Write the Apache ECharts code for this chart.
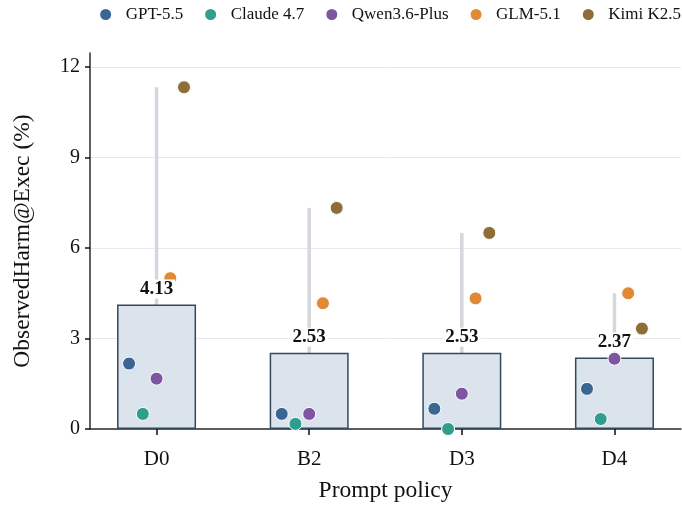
<!DOCTYPE html>
<html>
<head>
<meta charset="utf-8">
<script src="https://cdn.jsdelivr.net/npm/echarts@6.0.0/dist/echarts.min.js"></script>
<style>
html,body{margin:0;padding:0;background:#fff;}
#chart{width:682px;height:508px;}
</style>
</head>
<body>
<div id="chart"></div>
<script>
// ---- data ----
const categories = ['D0', 'B2', 'D3', 'D4'];
const models = ['GPT-5.5', 'Claude 4.7', 'Qwen3.6-Plus', 'GLM-5.1', 'Kimi K2.5'];
const gpt   = [2.17, 0.50, 0.67, 1.33];
const claude= [0.50, 0.17, 0.00, 0.33];
const qwen  = [1.67, 0.50, 1.17, 2.33];
const glm   = [5.00, 4.17, 4.33, 4.50];
const kimi  = [11.33, 7.33, 6.50, 3.33];
const means = [4.13, 2.53, 2.53, 2.37];
const yTicks = [0, 3, 6, 9, 12];

// ---- style ----
const colors = ['#3b6593', '#2f9e8f', '#7d55a0', '#e08a36', '#8f6d37'];
const offsets = [-0.18, -0.09, 0, 0.09, 0.18];
const FONT = '"Liberation Serif", "Times New Roman", serif';
const seriesValues = [gpt, claude, qwen, glm, kimi];

const ranges = categories.map((c, i) => {
  const vals = seriesValues.map(s => s[i]);
  return [i, Math.min(...vals), Math.max(...vals)];
});

const chart = echarts.init(document.getElementById('chart'), null, {renderer: 'canvas'});

const scatterSeries = models.map((m, k) => ({
  name: m,
  type: 'scatter',
  z: 4,
  symbol: 'circle',
  symbolSize: 13,
  itemStyle: {color: colors[k], opacity: 1, borderColor: '#fff', borderWidth: 1},
  data: seriesValues[k].map((v, i) => [i + offsets[k], v])
}));

const option = {
  animation: false,
  backgroundColor: '#fff',
  textStyle: {fontFamily: FONT},
  legend: {
    top: 6,
    right: 1,
    padding: 0,
    itemWidth: 30,
    itemHeight: 13,
    itemGap: 20,
    icon: 'circle',
    textStyle: {fontFamily: FONT, fontSize: 17, color: '#111'},
    data: models
  },
  grid: {left: 90, right: 1, top: 53, bottom: 76, containLabel: false},
  xAxis: {
    type: 'value',
    min: -0.436,
    max: 3.436,
    name: 'Prompt policy',
    nameLocation: 'middle',
    nameGap: 50,
    nameTextStyle: {fontFamily: FONT, fontSize: 23.5, color: '#111'},
    axisLine: {show: true, onZero: false, lineStyle: {color: '#2b2b2b', width: 1.5}},
    axisTick: {show: true, customValues: [0, 1, 2, 3], length: 6, lineStyle: {color: '#111', width: 1.5}},
    axisLabel: {
      customValues: [0, 1, 2, 3],
      formatter: v => categories[Math.round(v)] || '',
      fontFamily: FONT, fontSize: 21, color: '#111', margin: 20
    },
    splitLine: {show: false}
  },
  yAxis: {
    type: 'value',
    min: 0,
    max: 12.466,
    name: 'ObservedHarm@Exec (%)',
    nameLocation: 'middle',
    nameGap: 55,
    nameTextStyle: {fontFamily: FONT, fontSize: 23.5, color: '#111'},
    axisLine: {show: true, onZero: false, lineStyle: {color: '#2b2b2b', width: 1.5}},
    axisTick: {show: true, customValues: yTicks, length: 5, lineStyle: {color: '#111', width: 1.5}},
    axisLabel: {customValues: yTicks, fontFamily: FONT, fontSize: 20, color: '#111', margin: 10},
    splitLine: {show: true, lineStyle: {color: '#e6e9ef', width: 1}}
  },
  series: [
    {
      type: 'custom',
      name: 'range',
      z: 1,
      silent: true,
      data: ranges,
      encode: {x: 0, y: [1, 2]},
      renderItem: (params, api) => {
        const p1 = api.coord([api.value(0), api.value(1)]);
        const p2 = api.coord([api.value(0), api.value(2)]);
        return {
          type: 'line',
          shape: {x1: p1[0], y1: p1[1], x2: p2[0], y2: p2[1]},
          style: {stroke: '#d4d7dd', lineWidth: 3.5}
        };
      }
    },
    {
      type: 'bar',
      name: 'mean',
      z: 2,
      barWidth: 79,
      silent: true,
      itemStyle: {color: '#dbe3ec', borderColor: '#34495e', borderWidth: 1.5},
      data: means.map((m, i) => [i, m])
    },
    ...scatterSeries,
    {
      type: 'custom',
      name: 'labels',
      z: 6,
      silent: true,
      data: means.map((m, i) => [i, m]),
      encode: {x: 0, y: 1},
      renderItem: (params, api) => {
        const p = api.coord([api.value(0), api.value(1)]);
        return {
          type: 'text',
          x: p[0],
          y: p[1] - 6,
          style: {
            text: api.value(1).toFixed(2),
            fill: '#111',
            font: 'bold 19px ' + FONT,
            align: 'center',
            verticalAlign: 'bottom',
            backgroundColor: '#fff',
            padding: [0, 2, 0, 2]
          }
        };
      }
    }
  ]
};
chart.setOption(option);
</script>
</body>
</html>
